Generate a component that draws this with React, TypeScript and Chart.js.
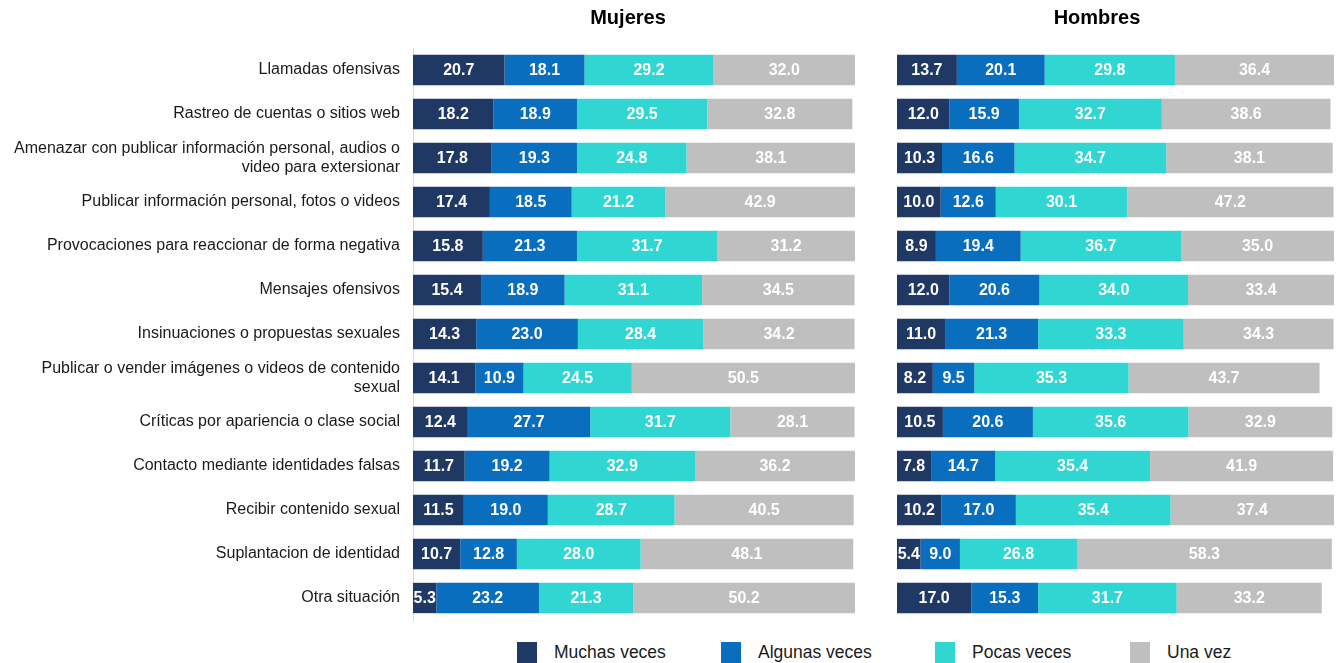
import React, { useEffect, useRef } from "react";
import { Chart, registerables } from "chart.js";

Chart.register(...registerables);

const categories: (string | string[])[] = [
  "Llamadas ofensivas",
  "Rastreo de cuentas o sitios web",
  ["Amenazar con publicar información personal, audios o", "video para extersionar"],
  "Publicar información personal, fotos o videos",
  "Provocaciones para reaccionar de forma negativa",
  "Mensajes ofensivos",
  "Insinuaciones o propuestas sexuales",
  ["Publicar o vender imágenes o videos de contenido", "sexual"],
  "Críticas por apariencia o clase social",
  "Contacto mediante identidades falsas",
  "Recibir contenido sexual",
  "Suplantacion de identidad",
  "Otra situación",
];

const seriesNames = ["Muchas veces", "Algunas veces", "Pocas veces", "Una vez"];
const seriesColors = ["#1f3864", "#0a6ebf", "#30d6d1", "#bfbfbf"];

// Mujeres
const mujeresMuchas = [20.7, 18.2, 17.8, 17.4, 15.8, 15.4, 14.3, 14.1, 12.4, 11.7, 11.5, 10.7, 5.3];
const mujeresAlgunas = [18.1, 18.9, 19.3, 18.5, 21.3, 18.9, 23.0, 10.9, 27.7, 19.2, 19.0, 12.8, 23.2];
const mujeresPocas = [29.2, 29.5, 24.8, 21.2, 31.7, 31.1, 28.4, 24.5, 31.7, 32.9, 28.7, 28.0, 21.3];
const mujeresUna = [32.0, 32.8, 38.1, 42.9, 31.2, 34.5, 34.2, 50.5, 28.1, 36.2, 40.5, 48.1, 50.2];

// Hombres
const hombresMuchas = [13.7, 12.0, 10.3, 10.0, 8.9, 12.0, 11.0, 8.2, 10.5, 7.8, 10.2, 5.4, 17.0];
const hombresAlgunas = [20.1, 15.9, 16.6, 12.6, 19.4, 20.6, 21.3, 9.5, 20.6, 14.7, 17.0, 9.0, 15.3];
const hombresPocas = [29.8, 32.7, 34.7, 30.1, 36.7, 34.0, 33.3, 35.3, 35.6, 35.4, 35.4, 26.8, 31.7];
const hombresUna = [36.4, 38.6, 38.1, 47.2, 35.0, 33.4, 34.3, 43.7, 32.9, 41.9, 37.4, 58.3, 33.2];

const FONT = '"Liberation Sans", Arial, Helvetica, sans-serif';

const valueLabels = {
  id: "valueLabels",
  afterDatasetsDraw(chart: any) {
    const { ctx } = chart;
    ctx.save();
    ctx.font = `bold 16px ${FONT}`;
    ctx.fillStyle = "#ffffff";
    ctx.textAlign = "center";
    ctx.textBaseline = "middle";
    chart.data.datasets.forEach((ds: any, i: number) => {
      const meta = chart.getDatasetMeta(i);
      meta.data.forEach((bar: any, j: number) => {
        const v = ds.data[j];
        const p = bar.getProps(["x", "y", "base"], true);
        ctx.fillText(Number(v).toFixed(1), (p.x + p.base) / 2, p.y + 1);
      });
    });
    ctx.restore();
  },
};

const panelTitle = {
  id: "panelTitle",
  afterDraw(chart: any, _args: any, opts: any) {
    if (!opts || !opts.text) return;
    const { ctx } = chart;
    ctx.save();
    ctx.font = `bold 20px ${FONT}`;
    ctx.fillStyle = "#000000";
    ctx.textAlign = "center";
    ctx.textBaseline = "middle";
    ctx.fillText(opts.text, opts.x, opts.y);
    ctx.restore();
  },
};

function buildDatasets(values: number[][]) {
  return values.map((vals, i) => ({
    label: seriesNames[i],
    data: vals,
    backgroundColor: seriesColors[i],
    borderWidth: 0,
    barPercentage: 0.69,
    categoryPercentage: 1.0,
  }));
}

function makeConfig(values: number[][], left: boolean, title: string, titleX: number): any {
  return {
    type: "bar",
    data: { labels: categories, datasets: buildDatasets(values) },
    plugins: [valueLabels, panelTitle],
    options: {
      indexAxis: "y",
      responsive: false,
      animation: false,
      layout: {
        padding: left
          ? { left: 0, right: 15, top: 48, bottom: 12 }
          : { left: 27, right: 4, top: 48, bottom: 12 },
      },
      scales: {
        x: {
          stacked: true,
          min: 0,
          max: 100,
          display: false,
        },
        y: {
          stacked: true,
          display: left,
          afterFit: (scale: any) => {
            if (left) scale.width = 413;
            scale.paddingTop = 0;
            scale.paddingBottom = 0;
          },
          grid: { display: false, drawTicks: false },
          border: { display: left, color: "#d9d9d9", width: 1 },
          ticks: {
            padding: 13,
            color: "#1a1a1a",
            font: { family: FONT, size: 16 },
          },
        },
      },
      plugins: {
        legend: { display: false },
        tooltip: { enabled: false },
        title: { display: false },
        panelTitle: { text: title, x: titleX, y: 18 },
      },
    },
  };
}

function Panel(props: {
  values: number[][];
  left: boolean;
  title: string;
  titleX: number;
  x: number;
  width: number;
}) {
  const ref = useRef<HTMLCanvasElement>(null);
  useEffect(() => {
    if (!ref.current) return;
    const chart = new Chart(ref.current, makeConfig(props.values, props.left, props.title, props.titleX));
    return () => chart.destroy();
  }, []);
  return (
    <canvas
      ref={ref}
      width={props.width}
      height={632}
      style={{ position: "absolute", left: props.x, top: 0, width: props.width, height: 632 }}
    />
  );
}

export default function App() {
  const legendLeft = [517, 721, 935, 1130];
  return (
    <div style={{ position: "absolute", left: 0, top: 0, width: 1338, height: 663, background: "#ffffff", overflow: "hidden" }}>
      <Panel
        values={[mujeresMuchas, mujeresAlgunas, mujeresPocas, mujeresUna]}
        left={true}
        title="Mujeres"
        titleX={628}
        x={0}
        width={870}
      />
      <Panel
        values={[hombresMuchas, hombresAlgunas, hombresPocas, hombresUna]}
        left={false}
        title="Hombres"
        titleX={227}
        x={870}
        width={468}
      />
      {seriesNames.map((name, i) => (
        <div
          key={name}
          style={{
            position: "absolute",
            left: legendLeft[i],
            top: 642,
            display: "flex",
            alignItems: "center",
            fontFamily: FONT,
            fontSize: 17.5,
            color: "#1a1a1a",
            whiteSpace: "nowrap",
          }}
        >
          <span style={{ display: "inline-block", width: 20, height: 21, background: seriesColors[i], marginRight: 17 }} />
          <span style={{ lineHeight: "21px" }}>{name}</span>
        </div>
      ))}
    </div>
  );
}
